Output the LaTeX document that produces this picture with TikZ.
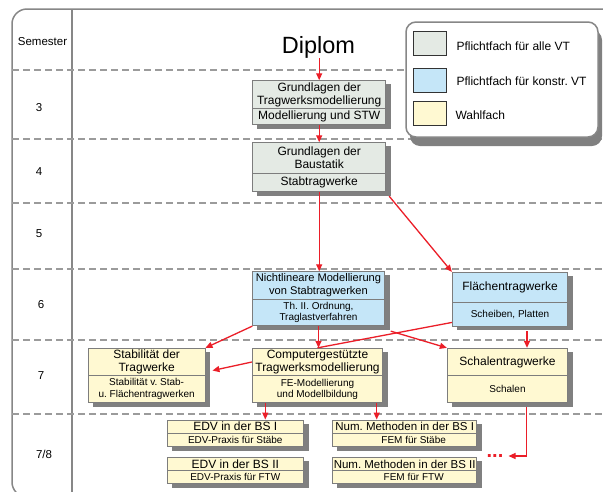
\documentclass[tikz,border=0pt]{standalone}
\usepackage{fontspec}
\setmainfont{Liberation Sans}
\usetikzlibrary{arrows.meta,fit}
\pgfdeclarelayer{bglayer}
\pgfdeclarelayer{shadowlayer}
\pgfsetlayers{bglayer,shadowlayer,main}
\definecolor{cgray}{RGB}{228,234,228}
\definecolor{cblue}{RGB}{197,230,248}
\definecolor{cyellow}{RGB}{255,249,210}
\definecolor{cborder}{RGB}{125,125,125}
\definecolor{cshadow}{RGB}{128,128,128}
\definecolor{cred}{RGB}{235,30,40}
\definecolor{cdash}{RGB}{155,155,155}
\definecolor{cframe}{RGB}{135,135,135}
\newcommand\fsz[2]{\fontsize{#1}{#2}\selectfont}
\newcommand\shadowof[2]{\begin{pgfonlayer}{shadowlayer}\fill[cshadow] ([shift={(5,4)}]#1.north west) rectangle ([shift={(5,4)}]#2.south east);\end{pgfonlayer}}
\tikzset{
  box/.style={draw=cborder, line width=0.9pt, inner sep=0pt, align=center, font=\fsz{12}{13}},
  gbox/.style={box, fill=cgray},
  bbox/.style={box, fill=cblue},
  ybox/.style={box, fill=cyellow},
  wh/.style 2 args={minimum width=#1, minimum height=#2},
  small/.style={font=\fsz{10}{11.3}},
  arr/.style={draw=cred, line width=1.3pt, -{Triangle[length=7pt,width=6pt]}},
  redline/.style={draw=cred, line width=1.3pt},
  sepline/.style={draw=cdash, line width=1.3pt, dash pattern=on 7pt off 4pt},
  framest/.style={draw=cframe, line width=1.5pt},
  semlabel/.style={font=\fsz{11.5}{13}, inner sep=0pt},
  legtext/.style={font=\fsz{12}{13}, inner sep=0pt, anchor=west},
  swatch/.style={draw=black!80, line width=0.8pt, inner sep=0pt},
  legendbox/.style={draw=cframe, line width=1.5pt, fill=white, rounded corners=10pt, inner sep=0pt},
  dotsst/.style={font=\bfseries\fsz{20}{20}, text=cred, inner sep=0pt, text height=2.8pt, text depth=0pt},
}
\begin{document}
\frenchspacing
\begin{tikzpicture}[x=1pt,y=-1pt]
\useasboundingbox (0,0) rectangle (603,491);
\clip (0,0) rectangle (603,491);
\begin{pgfonlayer}{bglayer}
  \fill[white] (0,0) rectangle (603,491);
  \draw[framest, rounded corners=15pt] (616,9) -- (12,9) -- (12,497) -- (616,497);
  \draw[framest] (72,9) -- (72,497);
  \foreach \yy in {70,139,203,269,340,414} \draw[sepline] (12,\yy) -- (603,\yy);
\end{pgfonlayer}

% semester labels
\node[semlabel] (sem) at (42.5,42) {Semester};
\node[semlabel] (s3) at (39,108) {3};
\node[semlabel] (s4) at (39,172) {4};
\node[semlabel] (s5) at (39,234) {5};
\node[semlabel] (s6) at (41,305) {6};
\node[semlabel] (s7) at (41,376) {7};
\node[semlabel] (s78) at (44,454) {7/8};

% Diplom
\node[font=\fsz{23.5}{26}, inner sep=0pt, anchor=base] (dip) at (318.5,53) {Diplom};

% legend
\begin{pgfonlayer}{shadowlayer}
  \fill[cshadow, rounded corners=10pt] (410,30) rectangle (602,146);
  \fill[cshadow] (418.3,36) rectangle (451,60);
  \fill[cshadow] (418.3,73.3) rectangle (451,97.3);
  \fill[cshadow] (418.3,106.7) rectangle (451,130.7);
\end{pgfonlayer}
\node[legendbox, fit={(406,22)(598,137)}] (leg) {};
\node[swatch, fill=cgray, fit={(413.3,31)(446,55)}] (sw1) {};
\node[swatch, fill=cblue, fit={(413.3,68.3)(446,92.3)}] (sw2) {};
\node[swatch, fill=cyellow, fit={(413.3,101.7)(446,125.7)}] (sw3) {};
\node[legtext] (lt1) at (456.3,46.5) {Pflichtfach für alle VT};
\node[legtext] (lt2) at (456.3,81.5) {Pflichtfach für konstr. VT};
\node[legtext] (lt3) at (455.3,115) {Wahlfach};

% courses
\node[gbox, wh={133}{27.6}] (A) at (319.2,94.5) {Grundlagen der\\Tragwerksmodellierung};
\node[gbox, wh={133}{16}] (As) at (319.2,116.3) {Modellierung und STW};
\shadowof{A}{As}
\node[gbox, wh={133}{30.6}] (B) at (319.2,158) {Grundlagen der\\Baustatik};
\node[gbox, wh={133}{18.4}] (Bs) at (319.2,182.5) {Stabtragwerke};
\shadowof{B}{Bs}
\node[bbox, font=\fsz{11.1}{13}, wh={131.6}{27.3}] (C) at (318.5,285.35) {Nichtlineare Modellierung\\von Stabtragwerken};
\node[bbox, small, wh={131.6}{26.7}] (Cs) at (318.5,312.35) {Th. II. Ordnung,\\Traglastverfahren};
\shadowof{C}{Cs}
\node[bbox, wh={115.4}{30.4}] (D) at (510,287.5) {Flächentragwerke};
\node[bbox, small, wh={115.4}{23.3}] (Ds) at (510,314.35) {Scheiben, Platten};
\shadowof{D}{Ds}
\node[ybox, wh={116.7}{26.7}] (E) at (146.65,361.65) {Stabilität der\\Tragwerke};
\node[ybox, small, wh={116.7}{27.7}] (Es) at (146.65,388.85) {Stabilität v. Stab-\\u. Flächentragwerken};
\shadowof{E}{Es}
\node[ybox, wh={130.4}{27.4}] (F) at (317.5,362) {Computergestützte\\Tragwerksmodellierung};
\node[ybox, small, wh={130.4}{27}] (Fs) at (317.5,389.2) {FE-Modellierung\\und Modellbildung};
\shadowof{F}{Fs}
\node[ybox, wh={120.4}{27.4}] (G) at (507.5,362) {Schalentragwerke};
\node[ybox, small, wh={120.4}{27}] (Gs) at (507.5,389.2) {Schalen};
\shadowof{G}{Gs}
\node[ybox, wh={136}{13.3}] (H) at (235.3,426.65) {EDV in der BS I};
\node[ybox, small, wh={136}{13.4}] (Hs) at (235.3,440) {EDV-Praxis für Stäbe};
\shadowof{H}{Hs}
\node[ybox, wh={136}{13.4}] (I) at (235.3,464) {EDV in der BS II};
\node[ybox, small, wh={136}{12.6}] (Is) at (235.3,477) {EDV-Praxis für FTW};
\shadowof{I}{Is}
\node[ybox, font=\fsz{11.5}{13}, wh={144}{13.3}] (J) at (404.7,426.65) {Num. Methoden in der BS I};
\node[ybox, small, wh={144}{13.4}] (Js) at (404.7,440) {\hspace*{18pt}FEM für Stäbe};
\shadowof{J}{Js}
\node[ybox, font=\fsz{11.5}{13}, wh={144}{13.4}] (K) at (404.7,464) {Num. Methoden in der BS II};
\node[ybox, small, wh={144}{12.6}] (Ks) at (404.7,477) {\hspace*{18pt}FEM für FTW};
\shadowof{K}{Ks}

\node[dotsst] (dots) at (495,456) {...};

% connectors
\draw[arr] (A.north |- dip.south) -- (A.north);
\draw[arr] (As.south) -- (B.north);
\draw[arr] (Bs.south) -- (Bs.south |- C.north);
\draw[arr] ([shift={(3,4)}]Bs.south east) -- (D.north west);
\draw[redline] ([shift={(0,-4)}]Ds.south west) -- (F.north);
\draw[arr] (Cs.south) -- (Cs.south |- F.north);
\draw[arr] (Cs.south west) -- (E.north east);
\draw[arr] (F.west) -- ([shift={(7,-4)}]Es.north east);
\draw[arr] ([shift={(6,5)}]Cs.south east) -- (G.north west);
\coordinate (dg) at ([shift={(17,5)}]Ds.south);
\draw[arr] (dg) -- (dg |- G.north);
\coordinate (fh) at ([shift={(30,0)}]H.north);
\draw[arr] (fh |- Fs.south) -- (fh);
\coordinate (fj) at ([shift={(-28,0)}]J.north);
\draw[arr] (fj |- Fs.south) -- (fj);
\coordinate (gd) at ([shift={(19,4)}]Gs.south);
\draw[arr] (gd) |- ([shift={(5,0)}]dots.east);
\end{tikzpicture}
\end{document}
